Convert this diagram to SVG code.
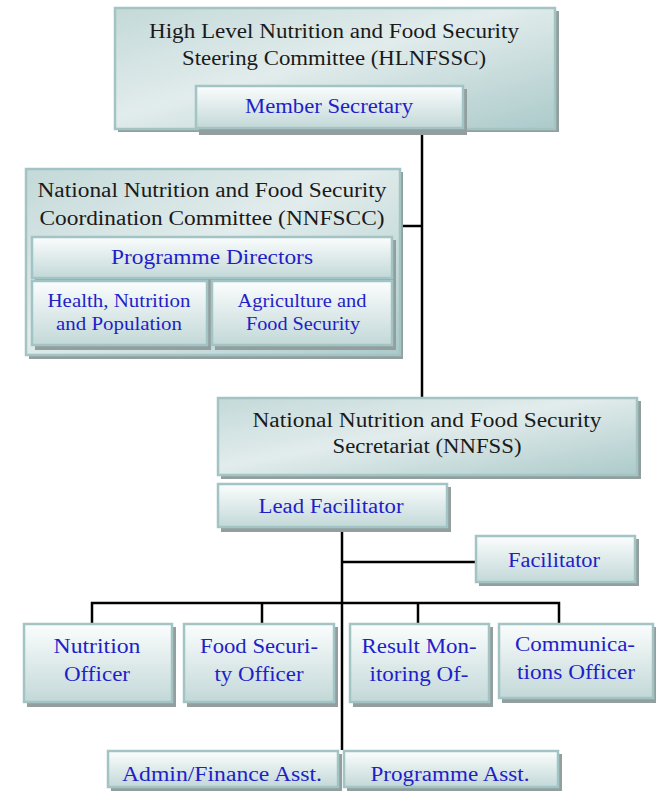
<svg xmlns="http://www.w3.org/2000/svg" width="657" height="791" viewBox="0 0 657 791">
<defs>
<linearGradient id="gBig" x1="0" y1="0" x2="1" y2="1">
<stop offset="0" stop-color="#c4d9d9"/>
<stop offset="0.45" stop-color="#e2ecec"/>
<stop offset="1" stop-color="#accaca"/>
</linearGradient>
<linearGradient id="gSmall" x1="0" y1="0" x2="0" y2="1">
<stop offset="0" stop-color="#fbfdfd"/>
<stop offset="1" stop-color="#c3d8d8"/>
</linearGradient>
</defs>
<style>
.sh{fill:#939f9f}
.big{fill:url(#gBig);stroke:#a2c4c4;stroke-width:2.5}
.sm{fill:url(#gSmall);stroke:#a2c4c4;stroke-width:2.5}
text{font-family:'Liberation Serif','DejaVu Serif',serif;text-anchor:middle}
.t{font-size:20px;fill:#1a1a1a}
.b{font-size:20px;fill:#1f1fc8}
.s{font-size:18px}
.c{stroke:#000;fill:none;stroke-width:2.5}
</style>
<g id="connectors">
<line class="c" x1="422" y1="128" x2="422" y2="398"/>
<line class="c" x1="400" y1="226" x2="423" y2="226" stroke-width="3"/>
<line class="c" x1="342" y1="527" x2="342" y2="750"/>
<line class="c" x1="342" y1="562" x2="475" y2="562"/>
<polyline class="c" points="92,623 92,603 559,603 559,623" stroke-width="3"/>
<line class="c" x1="262" y1="603" x2="262" y2="623"/>
<line class="c" x1="418" y1="603" x2="418" y2="623"/>
</g>
<g id="hlnfssc">
<rect class="sh" x="118" y="11" width="441" height="121"/>
<rect class="big" x="115" y="8" width="440" height="121"/>
<text class="t" x="334" y="38" textLength="370" lengthAdjust="spacingAndGlyphs">High Level Nutrition and Food Security</text>
<text class="t" x="334" y="65" textLength="304" lengthAdjust="spacingAndGlyphs">Steering Committee (HLNFSSC)</text>
</g>
<g id="member-secretary">
<rect class="sh" x="199" y="89" width="268" height="46"/>
<rect class="sm" x="196" y="86" width="267" height="42"/>
<text class="b" x="329" y="113" textLength="168" lengthAdjust="spacingAndGlyphs">Member Secretary</text>
</g>
<g id="nnfscc">
<rect class="sh" x="29" y="172" width="374" height="187"/>
<rect class="big" x="26" y="169" width="374" height="186"/>
<text class="t" x="212" y="197" textLength="349" lengthAdjust="spacingAndGlyphs">National Nutrition and Food Security</text>
<text class="t" x="212" y="225" textLength="345" lengthAdjust="spacingAndGlyphs">Coordination Committee (NNFSCC)</text>
</g>
<g id="programme-directors">
<rect class="sh" x="35" y="240" width="361" height="44"/>
<rect class="sm" x="32" y="237" width="360" height="41"/>
<text class="b" x="212" y="264" textLength="202" lengthAdjust="spacingAndGlyphs">Programme Directors</text>
</g>
<g id="health-nutrition-population">
<rect class="sh" x="35" y="284" width="176" height="66"/>
<rect class="sm" x="32" y="281" width="175" height="64"/>
<text class="b s" x="119" y="307" textLength="143" lengthAdjust="spacingAndGlyphs">Health, Nutrition</text>
<text class="b s" x="119" y="330" textLength="126" lengthAdjust="spacingAndGlyphs">and Population</text>
</g>
<g id="agriculture-food-security">
<rect class="sh" x="215" y="284" width="181" height="66"/>
<rect class="sm" x="212" y="281" width="180" height="64"/>
<text class="b s" x="302" y="307" textLength="129" lengthAdjust="spacingAndGlyphs">Agriculture and</text>
<text class="b s" x="303" y="330" textLength="114" lengthAdjust="spacingAndGlyphs">Food Security</text>
</g>
<g id="nnfss">
<rect class="sh" x="221" y="401" width="420" height="78"/>
<rect class="big" x="218" y="398" width="419" height="77"/>
<text class="t" x="427" y="427" textLength="349" lengthAdjust="spacingAndGlyphs">National Nutrition and Food Security</text>
<text class="t" x="427" y="453" textLength="189" lengthAdjust="spacingAndGlyphs">Secretariat (NNFSS)</text>
</g>
<g id="lead-facilitator">
<rect class="sh" x="221" y="487" width="230" height="45"/>
<rect class="sm" x="218" y="484" width="229" height="43"/>
<text class="b" x="331" y="513" textLength="145" lengthAdjust="spacingAndGlyphs">Lead Facilitator</text>
</g>
<g id="facilitator">
<rect class="sh" x="479" y="539" width="160" height="47"/>
<rect class="sm" x="476" y="536" width="159" height="46"/>
<text class="b" x="554" y="567" textLength="92" lengthAdjust="spacingAndGlyphs">Facilitator</text>
</g>
<g id="nutrition-officer">
<rect class="sh" x="27" y="627" width="149" height="80"/>
<rect class="sm" x="24" y="624" width="148" height="78"/>
<text class="b" x="97" y="653" textLength="87" lengthAdjust="spacingAndGlyphs">Nutrition</text>
<text class="b" x="97" y="681" textLength="66" lengthAdjust="spacingAndGlyphs">Officer</text>
</g>
<g id="food-security-officer">
<rect class="sh" x="187" y="627" width="151" height="80"/>
<rect class="sm" x="184" y="624" width="150" height="78"/>
<text class="b" x="259" y="653" textLength="118" lengthAdjust="spacingAndGlyphs">Food Securi-</text>
<text class="b" x="259" y="681" textLength="89" lengthAdjust="spacingAndGlyphs">ty Officer</text>
</g>
<g id="result-monitoring-officer">
<rect class="sh" x="353" y="627" width="140" height="80"/>
<rect class="sm" x="350" y="624" width="139" height="78"/>
<text class="b" x="419" y="653" textLength="115" lengthAdjust="spacingAndGlyphs">Result Mon-</text>
<text class="b" x="419" y="681" textLength="99" lengthAdjust="spacingAndGlyphs">itoring Of-</text>
</g>
<g id="communications-officer">
<rect class="sh" x="502" y="627" width="154" height="76"/>
<rect class="sm" x="499" y="624" width="154" height="74"/>
<text class="b" x="575" y="651" textLength="120" lengthAdjust="spacingAndGlyphs">Communica-</text>
<text class="b" x="576" y="679" textLength="118" lengthAdjust="spacingAndGlyphs">tions Officer</text>
</g>
<g id="admin-finance-asst">
<rect class="sh" x="111" y="754" width="231" height="37"/>
<rect class="sm" x="108" y="751" width="230" height="36"/>
<text class="b" x="222" y="781" textLength="200" lengthAdjust="spacingAndGlyphs">Admin/Finance Asst.</text>
</g>
<g id="programme-asst">
<rect class="sh" x="347" y="754" width="215" height="37"/>
<rect class="sm" x="344" y="751" width="214" height="36"/>
<text class="b" x="450" y="781" textLength="159" lengthAdjust="spacingAndGlyphs">Programme Asst.</text>
</g>
</svg>
